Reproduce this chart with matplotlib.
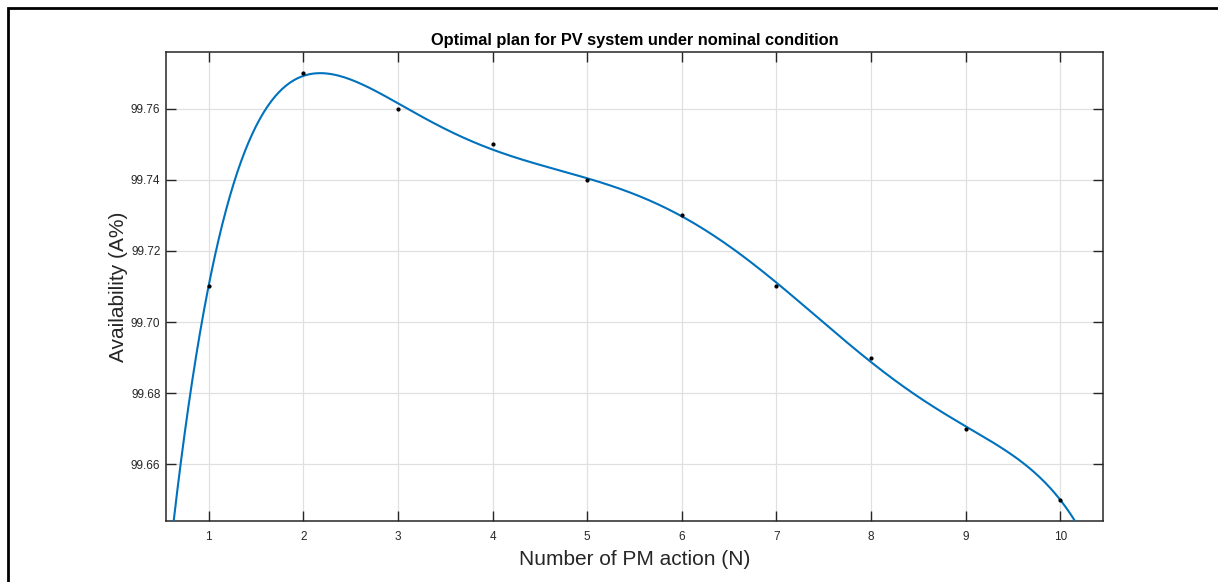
import numpy as np
import matplotlib
matplotlib.use('Agg')
import matplotlib.pyplot as plt
from matplotlib.patches import Rectangle

# PM actions and availability
n_pm = [1, 2, 3, 4, 5, 6, 7, 8, 9, 10]
avail = [99.71, 99.77, 99.76, 99.75, 99.74, 99.73, 99.71, 99.69, 99.67, 99.65]
y_ticks = [99.66, 99.68, 99.70, 99.72, 99.74, 99.76]
y_ticklabels = ['99.66', '99.68', '99.70', '99.72', '99.74', '99.76']

plt.rcParams['font.family'] = ['Liberation Sans', 'DejaVu Sans']

fig = plt.figure(figsize=(12.18, 5.82), dpi=100)
ax = fig.add_axes([0.1363, 0.1048, 0.7693, 0.8059])

# polynomial fit of the points (matlab style fit curve)
p = np.polyfit(n_pm, avail, 6)
xf = np.linspace(0.55, 10.45, 500)
ax.plot(xf, np.polyval(p, xf), color='#0072BD', lw=1.5, zorder=3)
ax.plot(n_pm, avail, 'k.', ms=4, zorder=4)

ax.set_xlim(0.55, 10.45)
ax.set_ylim(99.644, 99.776)
ax.set_xticks(n_pm)
ax.set_yticks(y_ticks)
ax.set_yticklabels(y_ticklabels)
ax.grid(True, color='#e0e0e0', lw=0.9)
ax.set_axisbelow(True)
ax.tick_params(direction='in', length=7, width=1, top=True, right=True,
               labelsize=8.5, colors='#262626')
ax.tick_params(axis='x', pad=7)
ax.tick_params(axis='y', pad=4)
for s in ax.spines.values():
    s.set_color('#262626')
    s.set_linewidth(1.1)

ax.set_title('Optimal plan for PV system under nominal condition',
             fontsize=11.8, fontweight='bold', pad=5)
ax.set_xlabel('Number of PM action (N)', fontsize=15, color='#262626', labelpad=5)
ax.set_ylabel('Availability (A%)', fontsize=15, color='#262626', labelpad=2)

# frame around the figure (cropped at right and bottom)
fig.add_artist(Rectangle((8 / 1218, -0.1), 1.2, 1.1 - 8 / 582, fill=False,
                         lw=2, ec='black', transform=fig.transFigure))

fig.savefig('out.png')
